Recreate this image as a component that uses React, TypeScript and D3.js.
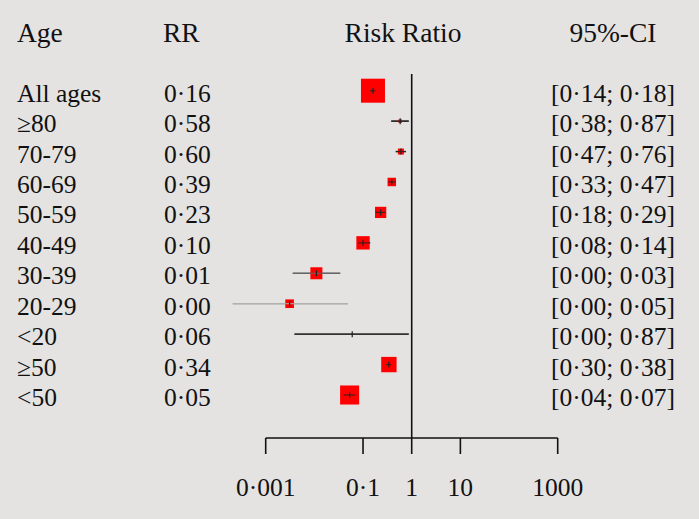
import React from "react";
import * as d3 from "d3";

const ageLabels = ["All ages", "≥80", "70-79", "60-69", "50-59", "40-49", "30-39", "20-29", "<20", "≥50", "<50"];
const rrValues = [0.16, 0.58, 0.60, 0.39, 0.23, 0.10, 0.011, 0.0031, 0.06, 0.34, 0.053];
const ciLower = [0.14, 0.38, 0.47, 0.33, 0.18, 0.08, 0.0036, 0.00021, 0.0039, 0.30, 0.04];
const ciUpper = [0.18, 0.87, 0.76, 0.47, 0.29, 0.14, 0.034, 0.049, 0.87, 0.38, 0.07];
const weights = [100, 2.1, 6.3, 12.5, 22, 31, 25, 13, 0.4, 41, 63];
const axisTicks = [0.001, 0.1, 1, 10, 1000];
const tickLabels = ["0·001", "0·1", "1", "10", "1000"];

const W = 699;
const H = 519;
const FONT = "'Liberation Serif', 'Times New Roman', serif";

const fmt = (v: number) => v.toFixed(2).replace(".", "·");

export default function App() {
  const x = d3.scaleLog().domain([0.001, 1000]).range([265.7, 557.7]);
  const y = d3.scaleLinear().domain([0, ageLabels.length - 1]).range([90.7, 395]);
  const size = d3.scaleSqrt().domain([0, 100]).range([0, 24]);
  const axisY = 438;
  const lineColor = (i: number) =>
    ageLabels[i] === "20-29" ? "#b0b0b0" : ageLabels[i] === "30-39" ? "#666" : "#222";

  return (
    <svg
      width={W}
      height={H}
      style={{ position: "absolute", left: 0, top: 0, background: "#e5e3e2" }}
      fontFamily={FONT}
    >
      <rect x={0} y={0} width={W} height={H} fill="#e5e3e2" />
      {/* headers */}
      <g fontSize={27.5} fill="#111">
        <text x={17} y={41.7}>Age</text>
        <text x={163} y={41.7}>RR</text>
        <text x={403} y={41.7} textAnchor="middle">Risk Ratio</text>
        <text x={613} y={41.7} textAnchor="middle">95%-CI</text>
      </g>
      {/* reference line */}
      <line x1={x(1)} x2={x(1)} y1={74} y2={axisY} stroke="#111" strokeWidth={1.6} />
      {/* rows */}
      {ageLabels.map((lab, i) => {
        const cy = y(i);
        const cx = x(rrValues[i]);
        const s = size(weights[i]);
        return (
          <g key={lab}>
            <text x={17} y={cy + 11} fontSize={25.5} fill="#111">{lab}</text>
            <text x={164} y={cy + 11} fontSize={25.5} fill="#111">{fmt(rrValues[i])}</text>
            <text x={675} y={cy + 11} fontSize={25.5} fill="#111" textAnchor="end">
              {`[${fmt(ciLower[i])}; ${fmt(ciUpper[i])}]`}
            </text>
            <line x1={x(ciLower[i])} x2={x(ciUpper[i])} y1={cy} y2={cy} stroke={lineColor(i)} strokeWidth={1.4} />
            <rect x={cx - s / 2} y={cy - s / 2} width={s} height={s} fill="#ff0000" />
            <line x1={x(ciLower[i])} x2={x(ciUpper[i])} y1={cy} y2={cy} stroke={lineColor(i)} strokeWidth={1.2} opacity={0.8} />
            <line x1={cx} x2={cx} y1={cy - 3} y2={cy + 3} stroke="#222" strokeWidth={1.2} />
          </g>
        );
      })}
      {/* axis */}
      <line x1={x(0.001)} x2={x(1000)} y1={axisY} y2={axisY} stroke="#111" strokeWidth={1.6} />
      {axisTicks.map((t, i) => (
        <g key={t}>
          <line x1={x(t)} x2={x(t)} y1={axisY} y2={454} stroke="#111" strokeWidth={1.6} />
          <text x={x(t)} y={496} fontSize={25.5} textAnchor="middle" fill="#111">{tickLabels[i]}</text>
        </g>
      ))}
    </svg>
  );
}
